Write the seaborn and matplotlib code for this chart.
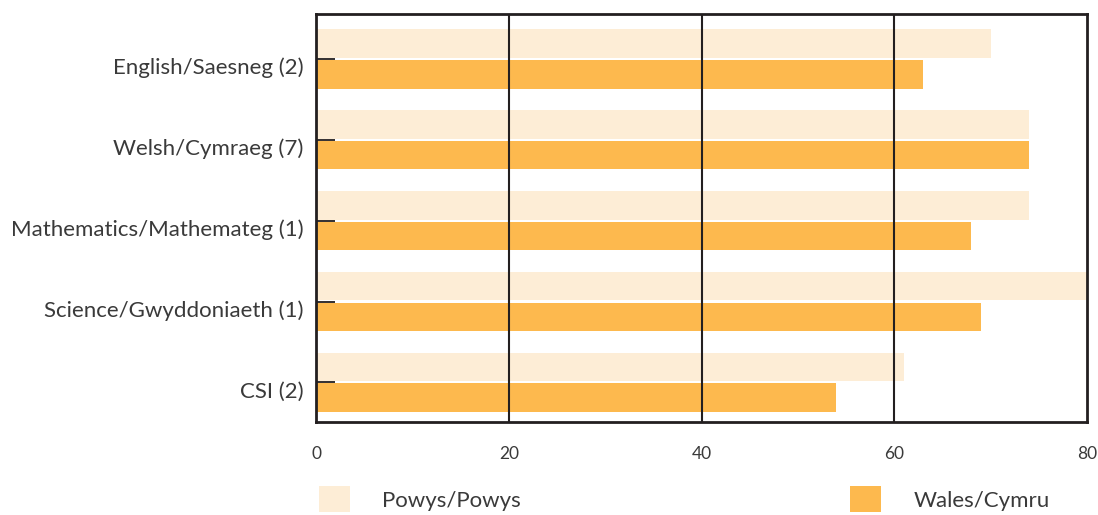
import matplotlib
matplotlib.use("Agg")
import matplotlib.pyplot as plt
import matplotlib.transforms as mtransforms
import seaborn as sns
import pandas as pd
from matplotlib.patches import Patch

categories = ["English/Saesneg (2)", "Welsh/Cymraeg (7)", "Mathematics/Mathemateg (1)",
              "Science/Gwyddoniaeth (1)", "CSI (2)"]
series_names = ["Powys/Powys", "Wales/Cymru"]
powys = [70, 74, 74, 80, 61]
wales = [63, 74, 68, 69, 54]
x_ticks = [0, 20, 40, 60, 80]
colors = ["#FDEDD6", "#FDB94E"]

sns.set_theme(style="white")
plt.rcParams['font.family'] = ['Lato', 'DejaVu Sans']
text_color = "#3A3A3A"
dark = "#231F20"

df = pd.DataFrame({
    "category": categories * 2,
    "value": powys + wales,
    "region": [series_names[0]] * len(categories) + [series_names[1]] * len(categories),
})

fig = plt.figure(figsize=(10.98, 5.15), dpi=100)
ax = fig.add_axes([316 / 1098, 1 - 422 / 515, (1087 - 316) / 1098, (422 - 14) / 515])

sns.barplot(data=df, x="value", y="category", hue="region", order=categories,
            hue_order=series_names, palette=colors, orient="h", width=0.76, gap=0.07,
            ax=ax, legend=False, saturation=1, edgecolor="none")

ax.set_xlim(0, 80)
ax.set_ylim(4.49, -0.556)
ax.set_xticks(x_ticks)
ax.set_xticklabels([str(t) for t in x_ticks])
ax.set_xlabel("")
ax.set_ylabel("")

for t in x_ticks[1:-1]:
    ax.axvline(t, color=dark, lw=1.5, zorder=3)

for s in ax.spines.values():
    s.set_visible(True)
    s.set_color(dark)
    s.set_linewidth(2)
    s.set_zorder(4)

ax.tick_params(axis="y", direction="in", length=14, width=1.3, color=dark, left=True,
               pad=9, labelsize=16, labelcolor=text_color)
ax.tick_params(axis="x", length=0, pad=17, labelsize=12.5, labelcolor=text_color)
ax.grid(False)

offset = mtransforms.ScaledTranslation(0, -7 / 100, fig.dpi_scale_trans)
for lab in ax.get_yticklabels():
    lab.set_transform(lab.get_transform() + offset)

handles = [Patch(facecolor=c, edgecolor="none") for c in colors]
fig.legend(handles, series_names, loc="upper left", bbox_to_anchor=(319 / 1098, 1 - 486 / 515),
           ncol=2, frameon=False, fontsize=16, handlelength=1.4, handleheight=1.45,
           handletextpad=1.45, columnspacing=14.8, labelcolor=text_color, borderaxespad=0,
           borderpad=0)

fig.savefig("out.png", dpi=100)
